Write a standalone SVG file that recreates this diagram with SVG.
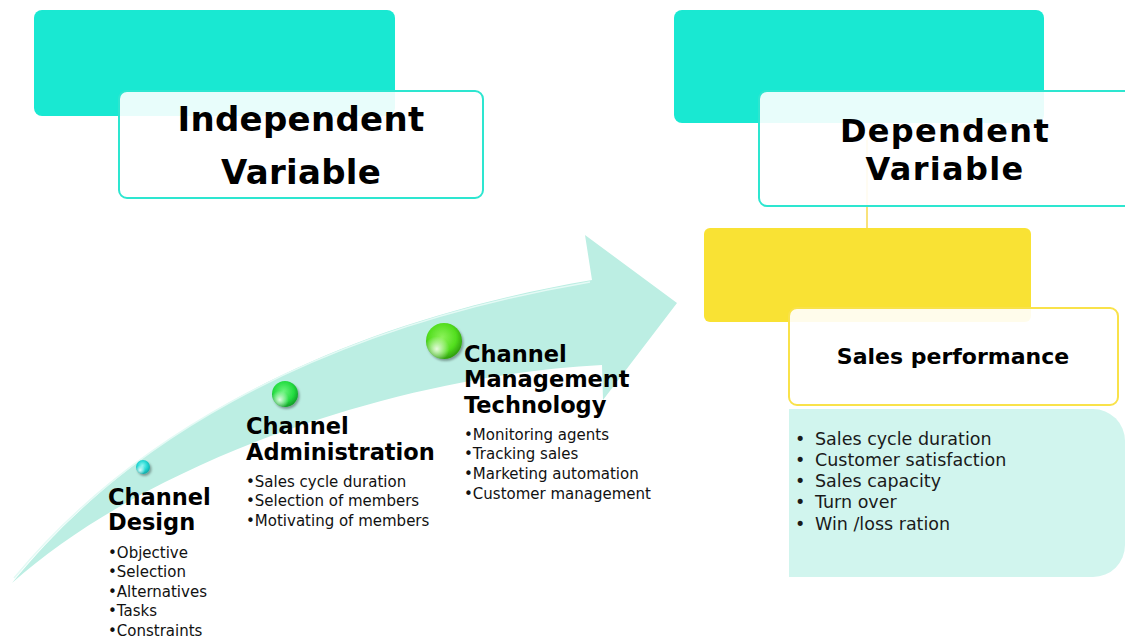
<svg xmlns="http://www.w3.org/2000/svg" width="1125" height="639" viewBox="0 0 1125 639">
  <defs>
    <style>
      .teal { fill: #19E8D2; }
      .card-teal { fill: #FFFFFF; fill-opacity: 0.9; stroke: #2DE6D0; stroke-width: 2; }
      .yellow { fill: #F9E234; }
      .card-yellow { fill: #FFFFFF; fill-opacity: 0.9; stroke: #F9E24A; stroke-width: 2; }
      .title { font-family: "DejaVu Sans", Verdana, sans-serif; font-weight: bold; font-size: 34px; letter-spacing: 0.3px; fill: #000; text-anchor: middle; }
      .title-tight { font-family: "DejaVu Sans", Verdana, sans-serif; font-weight: bold; font-size: 32px; letter-spacing: 1.3px; fill: #000; text-anchor: middle; }
      .subtitle { font-family: "DejaVu Sans", Verdana, sans-serif; font-weight: bold; font-size: 22px; fill: #000; text-anchor: middle; }
      .head { font-family: "DejaVu Sans", Verdana, sans-serif; font-weight: bold; font-size: 22.5px; fill: #000; }
      .item { font-family: "DejaVu Sans", Verdana, sans-serif; font-size: 15px; fill: #111; }
      .list { font-family: "DejaVu Sans", Tahoma, sans-serif; font-size: 17.5px; fill: #1a1a1a; }
    </style>
    <radialGradient id="ball-cyan" cx="0.45" cy="0.4" r="0.6">
      <stop offset="0" stop-color="#8FF7F2"/>
      <stop offset="0.6" stop-color="#22D6D2"/>
      <stop offset="1" stop-color="#10A8A6"/>
    </radialGradient>
    <radialGradient id="ball-green" cx="0.45" cy="0.4" r="0.6">
      <stop offset="0" stop-color="#6CF47E"/>
      <stop offset="0.65" stop-color="#23DC40"/>
      <stop offset="1" stop-color="#129E28"/>
    </radialGradient>
    <radialGradient id="ball-lime" cx="0.45" cy="0.4" r="0.6">
      <stop offset="0" stop-color="#8CF25A"/>
      <stop offset="0.65" stop-color="#52DE1E"/>
      <stop offset="1" stop-color="#2F9E0E"/>
    </radialGradient>
    <radialGradient id="gloss" cx="0.3" cy="0.72" r="0.35">
      <stop offset="0" stop-color="#FFFFFF" stop-opacity="0.85"/>
      <stop offset="1" stop-color="#FFFFFF" stop-opacity="0"/>
    </radialGradient>
    <filter id="soft-shadow" x="-40%" y="-40%" width="180%" height="180%">
      <feDropShadow dx="1.5" dy="2" stdDeviation="1.2" flood-color="#000" flood-opacity="0.35"/>
    </filter>
  </defs>

  <rect width="1125" height="639" fill="#FFFFFF"/>

  <!-- curved progress arrow -->
  <g id="flow-arrow">
    <path d="M12,583 C120,450 300,330 592,280 L585,235 L677,303 L603,400 L602,365 C400,375 150,460 12,583 Z" fill="#BCEEE3"/>
    <path d="M14,578 C120,450 300,332 590,282" fill="none" stroke="#E4FAF5" stroke-width="1.5"/>
  </g>

  <!-- connectors -->
  <g id="connectors">
    <line x1="867" y1="140" x2="867" y2="228" stroke="#F9E27A" stroke-width="2"/>
  </g>

  <!-- independent variable header -->
  <g id="independent-variable">
    <rect class="teal" x="34" y="10" width="361" height="106" rx="8"/>
    <rect class="card-teal" x="119" y="91" width="364" height="107" rx="8"/>
    <text class="title" x="301" y="131">Independent</text>
    <text class="title" x="301" y="184">Variable</text>
  </g>

  <!-- dependent variable header -->
  <g id="dependent-variable">
    <rect class="teal" x="674" y="10" width="370" height="113" rx="8"/>
    <rect class="card-teal" x="759" y="91" width="380" height="115" rx="8"/>
    <text class="title-tight" x="945" y="142">Dependent</text>
    <text class="title-tight" x="945" y="180">Variable</text>
  </g>

  <!-- sales performance -->
  <g id="sales-performance">
    <rect class="yellow" x="704" y="228" width="327" height="94" rx="6"/>
    <rect class="card-yellow" x="789" y="308" width="329" height="97" rx="8"/>
    <text class="subtitle" x="953" y="364">Sales performance</text>
  </g>

  <!-- performance measures -->
  <g id="performance-measures">
    <path d="M789,409 H1093 A32,32 0 0 1 1125,441 V545 A32,32 0 0 1 1093,577 H789 Z" fill="#D1F5EE"/>
    <g class="list">
      <text x="795" y="445">•</text><text x="815" y="445">Sales cycle duration</text>
      <text x="795" y="466">•</text><text x="815" y="466">Customer satisfaction</text>
      <text x="795" y="487">•</text><text x="815" y="487">Sales capacity</text>
      <text x="795" y="508">•</text><text x="815" y="508">Turn over</text>
      <text x="795" y="530">•</text><text x="815" y="530">Win /loss ration</text>
    </g>
  </g>

  <!-- stage 1 -->
  <g id="channel-design">
    <g filter="url(#soft-shadow)">
      <circle cx="143" cy="467" r="7" fill="url(#ball-cyan)"/>
    </g>
    <circle cx="143" cy="467" r="7" fill="url(#gloss)"/>
    <text class="head" x="108" y="505">Channel</text>
    <text class="head" x="108" y="530">Design</text>
    <g class="item">
      <text x="108" y="558">•Objective</text>
      <text x="108" y="577">•Selection</text>
      <text x="108" y="597">•Alternatives</text>
      <text x="108" y="616">•Tasks</text>
      <text x="108" y="636">•Constraints</text>
    </g>
  </g>

  <!-- stage 2 -->
  <g id="channel-administration">
    <g filter="url(#soft-shadow)">
      <circle cx="285" cy="394" r="13" fill="url(#ball-green)"/>
    </g>
    <circle cx="285" cy="394" r="13" fill="url(#gloss)"/>
    <text class="head" x="246" y="434">Channel</text>
    <text class="head" x="246" y="460">Administration</text>
    <g class="item">
      <text x="246" y="487">•Sales cycle duration</text>
      <text x="246" y="506">•Selection of members</text>
      <text x="246" y="526">•Motivating of members</text>
    </g>
  </g>

  <!-- stage 3 -->
  <g id="channel-management-technology">
    <g filter="url(#soft-shadow)">
      <circle cx="444" cy="341" r="18" fill="url(#ball-lime)"/>
    </g>
    <circle cx="444" cy="341" r="18" fill="url(#gloss)"/>
    <text class="head" x="464" y="362">Channel</text>
    <text class="head" x="464" y="387">Management</text>
    <text class="head" x="464" y="413">Technology</text>
    <g class="item">
      <text x="464" y="440">•Monitoring agents</text>
      <text x="464" y="459">•Tracking sales</text>
      <text x="464" y="479">•Marketing automation</text>
      <text x="464" y="499">•Customer management</text>
    </g>
  </g>
</svg>
